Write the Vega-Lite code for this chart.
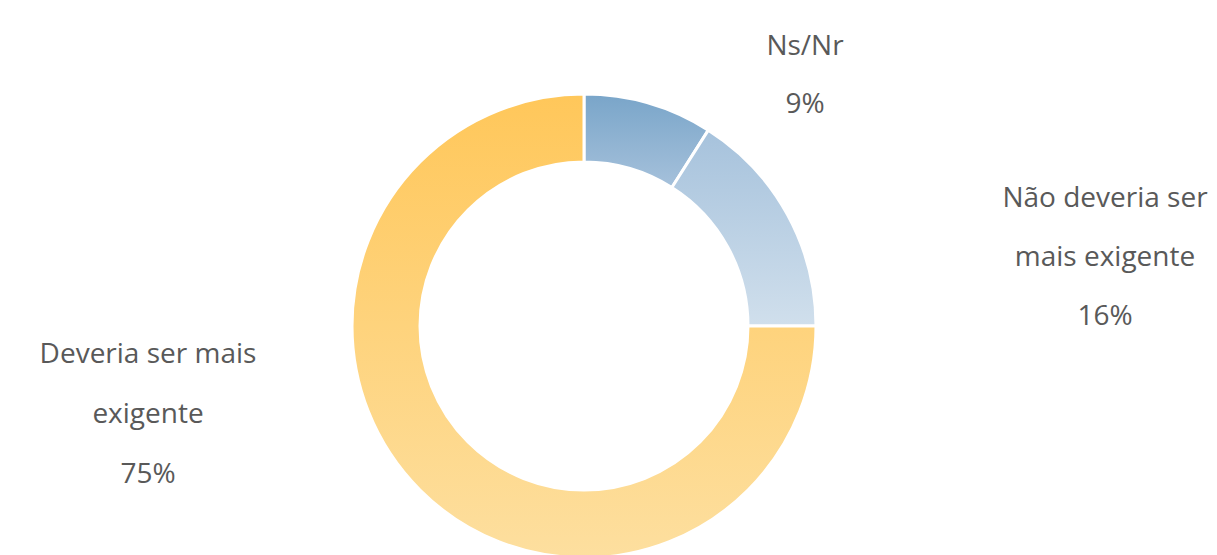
{
  "$schema": "https://vega.github.io/schema/vega-lite/v6.json",
  "width": 1168,
  "height": 652,
  "padding": {"left": 0, "top": 0, "right": 49, "bottom": 0},
  "autosize": "none",
  "background": "white",
  "view": {"stroke": null},
  "data": {
    "values": [
      {"categoria": "Ns/Nr", "pct": 9, "ordem": 1, "rotulo": ["Ns/Nr", "9%"]},
      {"categoria": "Não deveria ser mais exigente", "pct": 16, "ordem": 2, "rotulo": ["Não deveria ser", "mais exigente", "16%"]},
      {"categoria": "Deveria ser mais exigente", "pct": 75, "ordem": 3, "rotulo": ["Deveria ser mais", "exigente", "75%"]}
    ]
  },
  "layer": [
    {
      "mark": {"type": "arc", "outerRadius": 232, "innerRadius": 164, "stroke": "white", "strokeWidth": 3},
      "encoding": {
        "theta": {"field": "pct", "type": "quantitative", "stack": true},
        "order": {"field": "ordem", "type": "ordinal"},
        "detail": {"field": "categoria", "type": "nominal"},
        "fill": {
          "condition": [
            {"test": "datum.ordem === 1", "value": {"gradient": "linear", "x1": 0, "y1": 0, "x2": 0, "y2": 1, "stops": [{"offset": 0, "color": "#79A5C9"}, {"offset": 1, "color": "#A6C1DB"}]}},
            {"test": "datum.ordem === 2", "value": {"gradient": "linear", "x1": 0, "y1": 0, "x2": 0, "y2": 1, "stops": [{"offset": 0, "color": "#A6C2DC"}, {"offset": 1, "color": "#D0DFEC"}]}}
          ],
          "value": {"gradient": "linear", "x1": 0, "y1": 0, "x2": 0, "y2": 1, "stops": [{"offset": 0, "color": "#FFC75A"}, {"offset": 1, "color": "#FDDF9F"}]}
        }
      }
    },
    {
      "transform": [{"filter": "datum.ordem === 1"}],
      "mark": {"type": "text", "font": "Open Sans", "fontSize": 28, "color": "#595959", "lineHeight": 58, "align": "center", "baseline": "alphabetic", "dx": 221, "dy": -271},
      "encoding": {"text": {"field": "rotulo"}}
    },
    {
      "transform": [{"filter": "datum.ordem === 2"}],
      "mark": {"type": "text", "font": "Open Sans", "fontSize": 28, "color": "#595959", "lineHeight": 59, "align": "center", "baseline": "alphabetic", "dx": 521, "dy": -119},
      "encoding": {"text": {"field": "rotulo"}}
    },
    {
      "transform": [{"filter": "datum.ordem === 3"}],
      "mark": {"type": "text", "font": "Open Sans", "fontSize": 28, "color": "#595959", "lineHeight": 60, "align": "center", "baseline": "alphabetic", "dx": -436, "dy": 37},
      "encoding": {"text": {"field": "rotulo"}}
    }
  ]
}
